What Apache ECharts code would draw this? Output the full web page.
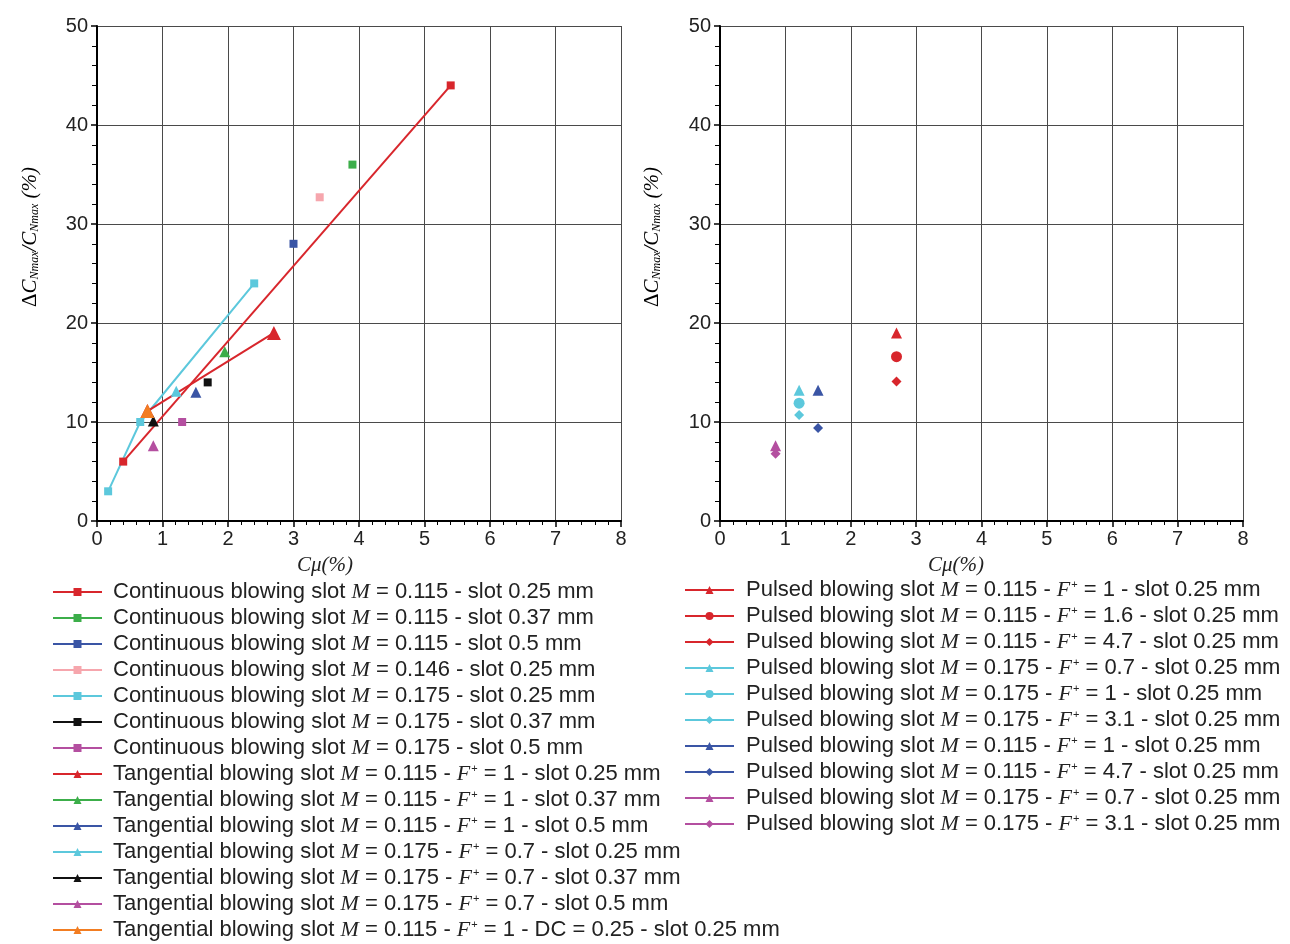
<!DOCTYPE html>
<html>
<head>
<meta charset="utf-8">
<script src="https://cdn.jsdelivr.net/npm/echarts@6/dist/echarts.min.js"></script>
<style>
  html, body { margin: 0; padding: 0; background: #fff; }
  #chart { width: 1290px; height: 944px; }
</style>
</head>
<body>
<div id="chart"></div>
<script>
// ---- Continuous blowing (square markers, left panel) ----
const contLabels = [
  'Continuous blowing slot M = 0.115 - slot 0.25 mm',
  'Continuous blowing slot M = 0.115 - slot 0.37 mm',
  'Continuous blowing slot M = 0.115 - slot 0.5 mm',
  'Continuous blowing slot M = 0.146 - slot 0.25 mm',
  'Continuous blowing slot M = 0.175 - slot 0.25 mm',
  'Continuous blowing slot M = 0.175 - slot 0.37 mm',
  'Continuous blowing slot M = 0.175 - slot 0.5 mm'
];
const contColors = ['#d8262c', '#3cae4a', '#3a55a5', '#f6a6ad', '#5cc8dc', '#111111', '#b44fa0'];
const contCmu = [[0.4, 5.4], [3.9], [3.0], [3.4], [0.17, 0.66, 2.4], [1.69], [1.3]];
const contGain = [[6.0, 44.0], [36.0], [28.0], [32.7], [3.0, 10.0, 24.0], [14.0], [10.0]];

// ---- Tangential blowing (triangle markers, left panel) ----
const tangLabels = [
  'Tangential blowing slot M = 0.115 - F+ = 1 - slot 0.25 mm',
  'Tangential blowing slot M = 0.115 - F+ = 1 - slot 0.37 mm',
  'Tangential blowing slot M = 0.115 - F+ = 1 - slot 0.5 mm',
  'Tangential blowing slot M = 0.175 - F+ = 0.7 - slot 0.25 mm',
  'Tangential blowing slot M = 0.175 - F+ = 0.7 - slot 0.37 mm',
  'Tangential blowing slot M = 0.175 - F+ = 0.7 - slot 0.5 mm',
  'Tangential blowing slot M = 0.115 - F+ = 1 - DC = 0.25 - slot 0.25 mm'
];
const tangColors = ['#d8262c', '#3cae4a', '#3a55a5', '#5cc8dc', '#111111', '#b44fa0', '#f27d22'];
const tangCmu = [[0.77, 2.7], [1.95], [1.51], [1.21], [0.86], [0.86], [0.77]];
const tangGain = [[11.1, 19.0], [17.1], [13.0], [13.1], [10.1], [7.6], [11.1]];
const tangSizes = [14, 11, 11, 11, 11, 11, 14];

// ---- Pulsed blowing (right panel) ----
const pulsedLabels = [
  'Pulsed blowing slot M = 0.115 - F+ = 1 - slot 0.25 mm',
  'Pulsed blowing slot M = 0.115 - F+ = 1.6 - slot 0.25 mm',
  'Pulsed blowing slot M = 0.115 - F+ = 4.7 - slot 0.25 mm',
  'Pulsed blowing slot M = 0.175 - F+ = 0.7 - slot 0.25 mm',
  'Pulsed blowing slot M = 0.175 - F+ = 1 - slot 0.25 mm',
  'Pulsed blowing slot M = 0.175 - F+ = 3.1 - slot 0.25 mm',
  'Pulsed blowing slot M = 0.115 - F+ = 1 - slot 0.25 mm',
  'Pulsed blowing slot M = 0.115 - F+ = 4.7 - slot 0.25 mm',
  'Pulsed blowing slot M = 0.175 - F+ = 0.7 - slot 0.25 mm',
  'Pulsed blowing slot M = 0.175 - F+ = 3.1 - slot 0.25 mm'
];
const pulsedColors = ['#d8262c', '#d8262c', '#d8262c', '#5cc8dc', '#5cc8dc', '#5cc8dc', '#3a55a5', '#3a55a5', '#b44fa0', '#b44fa0'];
const pulsedSymbols = ['triangle', 'circle', 'diamond', 'triangle', 'circle', 'diamond', 'triangle', 'diamond', 'triangle', 'diamond'];
const pulsedCmu = [2.7, 2.7, 2.7, 1.21, 1.21, 1.21, 1.5, 1.5, 0.85, 0.85];
const pulsedGain = [19.0, 16.6, 14.1, 13.2, 11.9, 10.7, 13.2, 9.4, 7.6, 6.8];

// ---- Axis ticks ----
const xTicks = { min: 0, max: 8, step: 1 };
const yTicks = { min: 0, max: 50, step: 10 };

const SANS = 'Liberation Sans, Arial, Helvetica, sans-serif';
const SERIF = 'Liberation Serif, Times New Roman, serif';

// Turn a plain label into rich text: italic serif M and F, superscript +
function toRich(s) {
  return s.split(/(\bM(?= =)|F\+(?= =))/)
    .filter(p => p !== '')
    .map(p => p === 'M' ? '{i|M}' : (p === 'F+' ? '{i|F}{sup|+}' : '{t|' + p + '}'))
    .join('');
}

const labelOf = {};
const series = [];

contLabels.forEach((lab, k) => {
  const key = 'cont' + k;
  labelOf[key] = lab;
  series.push({
    type: 'line', name: key, xAxisIndex: 0, yAxisIndex: 0,
    data: contCmu[k].map((x, i) => [x, contGain[k][i]]),
    symbol: 'rect', symbolSize: 8, showAllSymbol: true,
    itemStyle: { color: contColors[k] },
    lineStyle: { color: contColors[k], width: 2 },
    z: 3
  });
});

tangLabels.forEach((lab, k) => {
  const key = 'tang' + k;
  labelOf[key] = lab;
  series.push({
    type: 'line', name: key, xAxisIndex: 0, yAxisIndex: 0,
    data: tangCmu[k].map((x, i) => [x, tangGain[k][i]]),
    symbol: 'triangle', symbolSize: tangSizes[k], showAllSymbol: true,
    itemStyle: { color: tangColors[k] },
    lineStyle: { color: tangColors[k], width: 2 },
    z: k === 6 ? 6 : 4
  });
});

pulsedLabels.forEach((lab, k) => {
  const key = 'puls' + k;
  labelOf[key] = lab;
  series.push({
    type: 'line', name: key, xAxisIndex: 1, yAxisIndex: 1,
    data: [[pulsedCmu[k], pulsedGain[k]]],
    symbol: pulsedSymbols[k],
    symbolSize: pulsedSymbols[k] === 'diamond' ? 10 : 11,
    showAllSymbol: true,
    itemStyle: { color: pulsedColors[k] },
    lineStyle: { color: pulsedColors[k], width: 2 },
    z: 4
  });
});

function xAxisCfg(idx) {
  return {
    type: 'value', gridIndex: idx,
    min: xTicks.min, max: xTicks.max, interval: xTicks.step,
    axisLine: { show: true, onZero: false, lineStyle: { color: '#000', width: 2 } },
    axisTick: { show: true, inside: false, length: 6, lineStyle: { color: '#000', width: 1.5 } },
    minorTick: { show: true, splitNumber: 5, length: 4, lineStyle: { color: '#000', width: 1 } },
    splitLine: { show: true, lineStyle: { color: '#4a4a4a', width: 1 } },
    axisLabel: { fontFamily: SANS, fontSize: 20, color: '#222', margin: 8 }
  };
}
function yAxisCfg(idx) {
  return {
    type: 'value', gridIndex: idx,
    min: yTicks.min, max: yTicks.max, interval: yTicks.step,
    axisLine: { show: true, onZero: false, lineStyle: { color: '#000', width: 2 } },
    axisTick: { show: true, inside: false, length: 6, lineStyle: { color: '#000', width: 1.5 } },
    minorTick: { show: true, splitNumber: 5, length: 5, lineStyle: { color: '#000', width: 1 } },
    splitLine: { show: true, lineStyle: { color: '#4a4a4a', width: 1 } },
    axisLabel: { fontFamily: SANS, fontSize: 20, color: '#222', margin: 9 }
  };
}

const legendRich = {
  t: { fontFamily: SANS, fontSize: 22, color: '#222', lineHeight: 22 },
  i: { fontFamily: SERIF, fontStyle: 'italic', fontSize: 22, color: '#222', lineHeight: 22 },
  sup: { fontFamily: SANS, fontSize: 11, color: '#222', lineHeight: 22, verticalAlign: 'top', padding: [0, 0, 10, 1] }
};
function legendCfg(keys, left, top, textShift) {
  return {
    data: keys, left: left, top: top, orient: 'vertical', padding: 0,
    itemWidth: 49, itemHeight: 10, itemGap: 4, itemTextGap: 5,
    selectedMode: false,
    formatter: n => toRich(labelOf[n]),
    textStyle: { rich: legendRich, padding: [0, 0, 0, textShift] }
  };
}

const yTitleRich = {
  d: { fontFamily: SERIF, fontSize: 21, color: '#222' },
  c: { fontFamily: SERIF, fontStyle: 'italic', fontSize: 21, color: '#222' },
  s: { fontFamily: SERIF, fontStyle: 'italic', fontSize: 12, color: '#222', verticalAlign: 'bottom', padding: [8, 0, 0, 0] }
};
const yTitle = '{d|Δ}{c|C}{s|Nmax}{c|/C}{s|Nmax}{c| (%)}';
const xTitle = 'Cμ(%)';

const chart = echarts.init(document.getElementById('chart'), null, { renderer: 'canvas' });
chart.setOption({
  animation: false,
  backgroundColor: '#ffffff',
  grid: [
    { left: 97, top: 26, width: 524, height: 495 },
    { left: 720, top: 26, width: 523, height: 495 }
  ],
  xAxis: [xAxisCfg(0), xAxisCfg(1)],
  yAxis: [yAxisCfg(0), yAxisCfg(1)],
  legend: [
    legendCfg(contLabels.map((_, k) => 'cont' + k).concat(tangLabels.map((_, k) => 'tang' + k)), 52, 581, 6),
    legendCfg(pulsedLabels.map((_, k) => 'puls' + k), 684, 579, 7)
  ],
  graphic: [
    { type: 'text', x: 30, y: 237, rotation: Math.PI / 2,
      style: { text: yTitle, rich: yTitleRich, align: 'center', verticalAlign: 'middle' } },
    { type: 'text', x: 652, y: 237, rotation: Math.PI / 2,
      style: { text: yTitle, rich: yTitleRich, align: 'center', verticalAlign: 'middle' } },
    { type: 'text', x: 325, y: 565,
      style: { text: xTitle, fontFamily: SERIF, fontStyle: 'italic', fontSize: 21, fill: '#222', align: 'center', verticalAlign: 'middle' } },
    { type: 'text', x: 956, y: 565,
      style: { text: xTitle, fontFamily: SERIF, fontStyle: 'italic', fontSize: 21, fill: '#222', align: 'center', verticalAlign: 'middle' } }
  ],
  series: series
});
</script>
</body>
</html>
